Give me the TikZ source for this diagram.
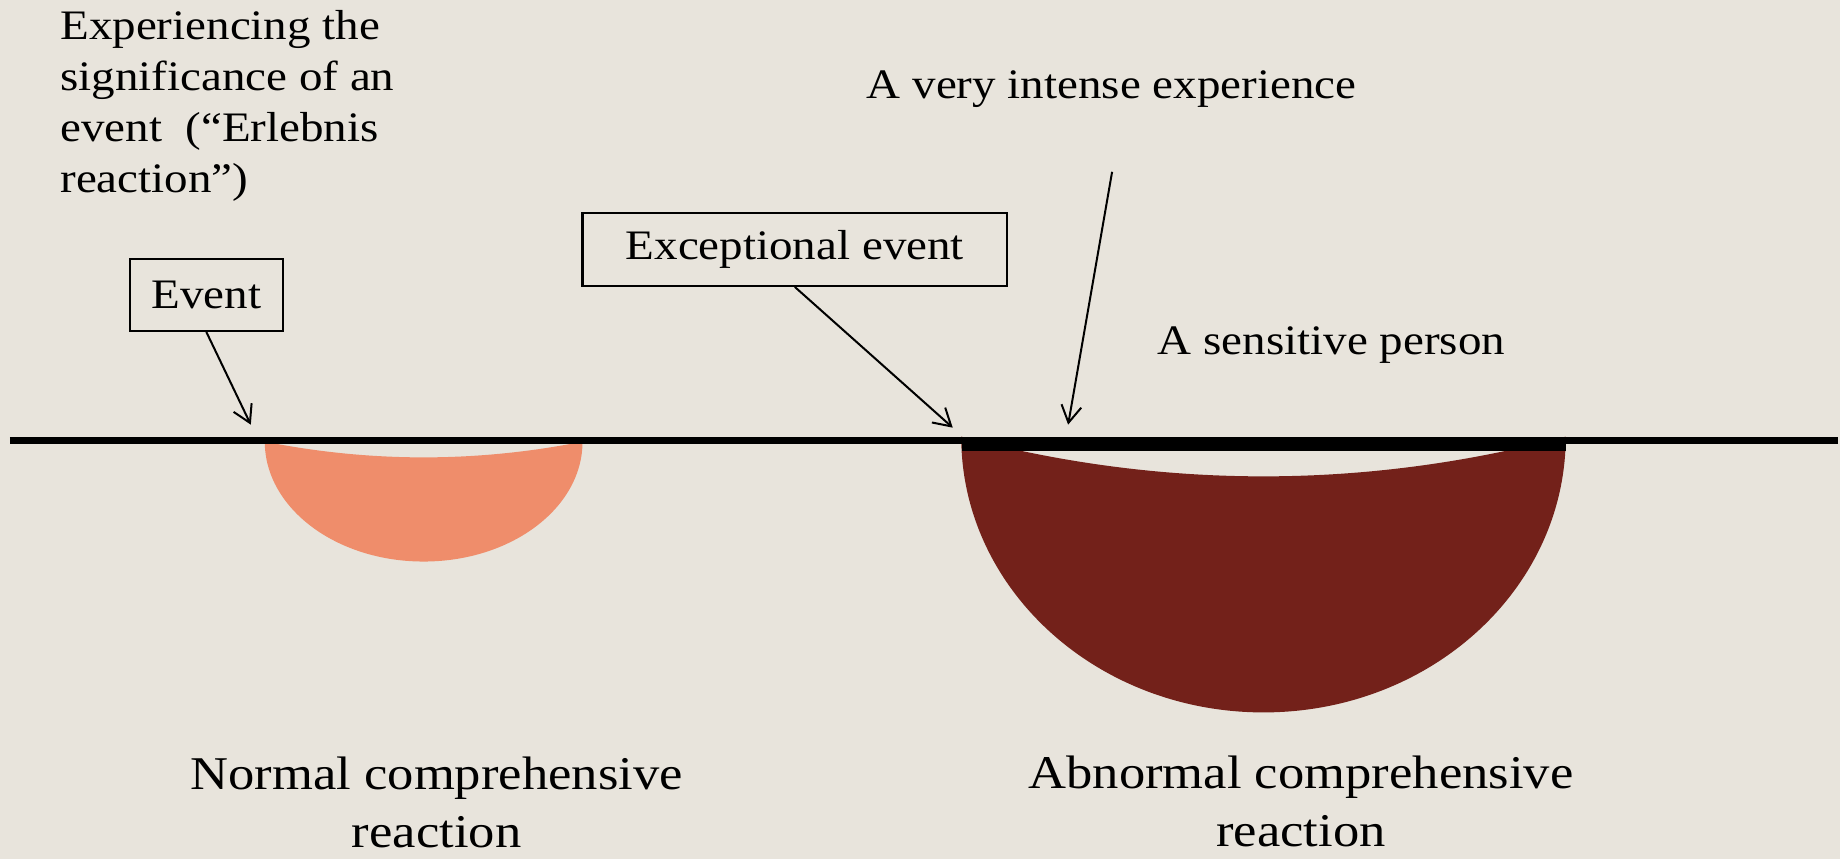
\documentclass[tikz,border=0pt]{standalone}
\usepackage{fontspec}
\setmainfont{Liberation Serif}[FakeStretch=1.12]
\usepackage{xcolor}
\usetikzlibrary{arrows.meta}
\definecolor{paper}{RGB}{232,228,220}
\definecolor{mild}{RGB}{239,141,107}
\definecolor{severe}{RGB}{115,33,26}

\begin{document}
\begin{tikzpicture}[x = 0.5pt, y = -0.5pt,
    txt/.style = {inner sep = 0pt, font = \fontsize{21}{25.5}\selectfont},
    bigtxt/.style = {inner sep = 0pt, align = center, font = \fontsize{23.5}{29}\selectfont},
    evbox/.style = {txt, draw, line width = 1.2pt},
    pointer/.style = {-{Straight Barb[length = 8.5pt, width = 10pt]}, line width = 1pt}]
    \fill[paper] (0, 0) rectangle (1841, 860);

    % the two reactions
    \fill[mild] (265, 442) .. controls (371, 463) and (477, 463) .. (583, 442)
        arc[start angle = 0, end angle = 180, x radius = 159, y radius = 120];
    \fill[severe] (962, 437) .. controls (1163, 490) and (1366, 490) .. (1567, 437)
        arc[start angle = 0, end angle = 180, x radius = 302.5, y radius = 276];

    % base line
    \draw[line width = 3.5pt] (10, 440.5) -- (1839, 440.5);
    \draw[line width = 7pt] (963, 444) -- (1567, 444);

    \node[txt, anchor = north west, align = left] (meaning) at (60, 10)
        {Experiencing the\\significance of an\\event~ (“Erlebnis\\reaction”)};
    \node[evbox, minimum width = 76.5pt, minimum height = 36pt] (event)
        at (206.5, 295) {Event};
    \node[evbox, minimum width = 212.5pt, minimum height = 36.5pt] (except)
        at (795.5, 249.5) {Exceptional event};
    \node[txt, anchor = base] (intense) at (1112.5, 99) {A very intense experience};
    \node[txt, anchor = base] (person) at (1332.5, 355) {A sensitive person};
    \node[bigtxt, anchor = north] (normal) at (437, 757)
        {Normal comprehensive\\reaction};
    \node[bigtxt, anchor = north] (abnormal) at (1302, 756)
        {Abnormal comprehensive\\reaction};

    % pointers
    \coordinate (evhit) at (251, 425);
    \coordinate (exhit) at (953.5, 428);
    \coordinate (intop) at (1113, 172);
    \coordinate (inhit) at (1069, 425);
    \draw[pointer] (event.south) -- (evhit);
    \draw[pointer] (except.south) -- (exhit);
    \draw[pointer] (intop) -- (inhit);
\end{tikzpicture}
\end{document}
